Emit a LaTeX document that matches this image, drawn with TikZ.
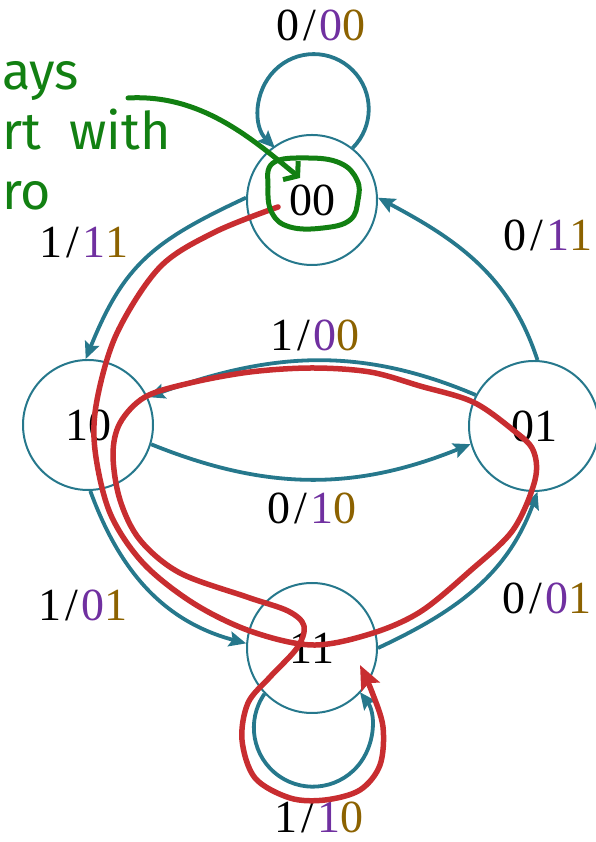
\documentclass[tikz,border=0pt]{standalone}
\usepackage{fontspec}
\setmainfont{Liberation Serif}
\newfontfamily\statefont{Liberation Serif}
\newfontfamily\handfont{Fira Sans}
\usetikzlibrary{arrows.meta}

\definecolor{edgeteal}{RGB}{38,120,140}
\definecolor{pathred}{RGB}{200,45,48}
\definecolor{inkgreen}{RGB}{18,128,18}
\definecolor{outfirst}{RGB}{112,48,160}
\definecolor{outsecond}{RGB}{140,98,0}
\newcommand{\edgelbl}[3]{#1\kern4pt/\kern4pt\textcolor{outfirst}{#2}\textcolor{outsecond}{#3}}

\begin{document}
\begin{tikzpicture}[x=1pt, y=1pt,
    state/.style={circle, draw=edgeteal, line width=2pt, minimum size=130pt, inner sep=0pt, font=\statefont\fontsize{46}{50}\selectfont},
    lbl/.style={font=\statefont\fontsize{46}{50}\selectfont, inner sep=0pt},
    edge/.style={draw=edgeteal, line width=3.8pt, -{Stealth[length=17pt,width=15pt,inset=3pt]}},
    trace/.style={draw=pathred, line width=5.5pt, line cap=round, line join=round, -{Stealth[length=24pt,width=20pt,inset=4pt]}},
    note/.style={text=inkgreen, font=\handfont\fontsize{52}{56}\selectfont, inner sep=0pt},
    ink/.style={draw=inkgreen, line width=5pt, line cap=round, line join=round}
  ]
    \useasboundingbox (0,0) rectangle (596,842);

    % States
    \node[state] (n00) at (312,642) {00};
    \node[state] (n10) at (88,417) {10};
    \node[state] (n01) at (534,416) {01};
    \node[state] (n11) at (312,194) {11};

    % Transitions
    \draw[edge] (n00.52) arc[start angle=-45, end angle=225, radius=55];
    \draw[edge] (n00.178) to[out=205, in=68, looseness=1.15] (n10.92);
    \draw[edge] (n01.87) to[out=108, in=-28] (n00.2);
    \draw[edge] (n01.152) to[out=157, in=20] (n10.25);
    \draw[edge] (n10.-17) to[out=-22, in=202] (n01.196);
    \draw[edge] (n10.-88) to[out=-70, in=165] (n11.176);
    \draw[edge] (n11.0) to[out=25, in=250] (n01.-87);
    \draw[edge] (n11.224) arc[start angle=145, end angle=397, radius=59];

    % Input/output labels
    \node[lbl] (l00) at (321,817) {\edgelbl{0}{0}{0}};
    \node[lbl] (l0010) at (84,599) {\edgelbl{1}{1}{1}};
    \node[lbl] (l0100) at (548,607) {\edgelbl{0}{1}{1}};
    \node[lbl] (l0110) at (315,507) {\edgelbl{1}{0}{0}};
    \node[lbl] (l1001) at (312,334) {\edgelbl{0}{1}{0}};
    \node[lbl] (l1011) at (83,237) {\edgelbl{1}{0}{1}};
    \node[lbl] (l1101) at (547,244) {\edgelbl{0}{0}{1}};
    \node[lbl] (l11) at (319,25) {\edgelbl{1}{1}{0}};

    % Red trace through the states
    \draw[trace] plot[smooth, tension=0.55] coordinates {
      (278,635) (215,610) (160,575) (117,509) (97,442) (95,392) (110,329)
      (143,279) (193,239) (250,211) (312,197) (370,208) (420,230) (470,271)
      (513,312) (535,362) (533,392) (513,412) (473,440) (420,456) (370,470)
      (312,474) (250,470) (190,459) (145,445) (120,419) (113,387) (120,342)
      (140,302) (180,269) (247,245) (288,231) (304,216) (297,194) (270,165)
      (248,139) (242,102) (255,64) (290,44) (325,42) (360,52) (380,77)
      (383,115) (372,150) (360,177)};

    % Green note
    \node[note, anchor=base west] (hint1) at (2,752) {ays};
    \node[note, anchor=base west] (hint2) at (2,692) {rt\hspace{0.55em}with};
    \node[note, anchor=base west] (hint3) at (2,632) {ro};
    \coordinate (hintA) at (128,744);
    \coordinate (hintB) at (300,664);
    \draw[ink, -{Straight Barb[length=9pt,width=24pt]}] (hintA) .. controls (200,748) and (250,705) .. (hintB);
    \draw[ink] plot[smooth cycle, tension=0.7] coordinates {
      (273,679) (307,684) (340,679) (357,662) (358,642) (350,622)
      (323,614) (290,615) (272,629) (268,655)};

  \end{tikzpicture}
\end{document}
